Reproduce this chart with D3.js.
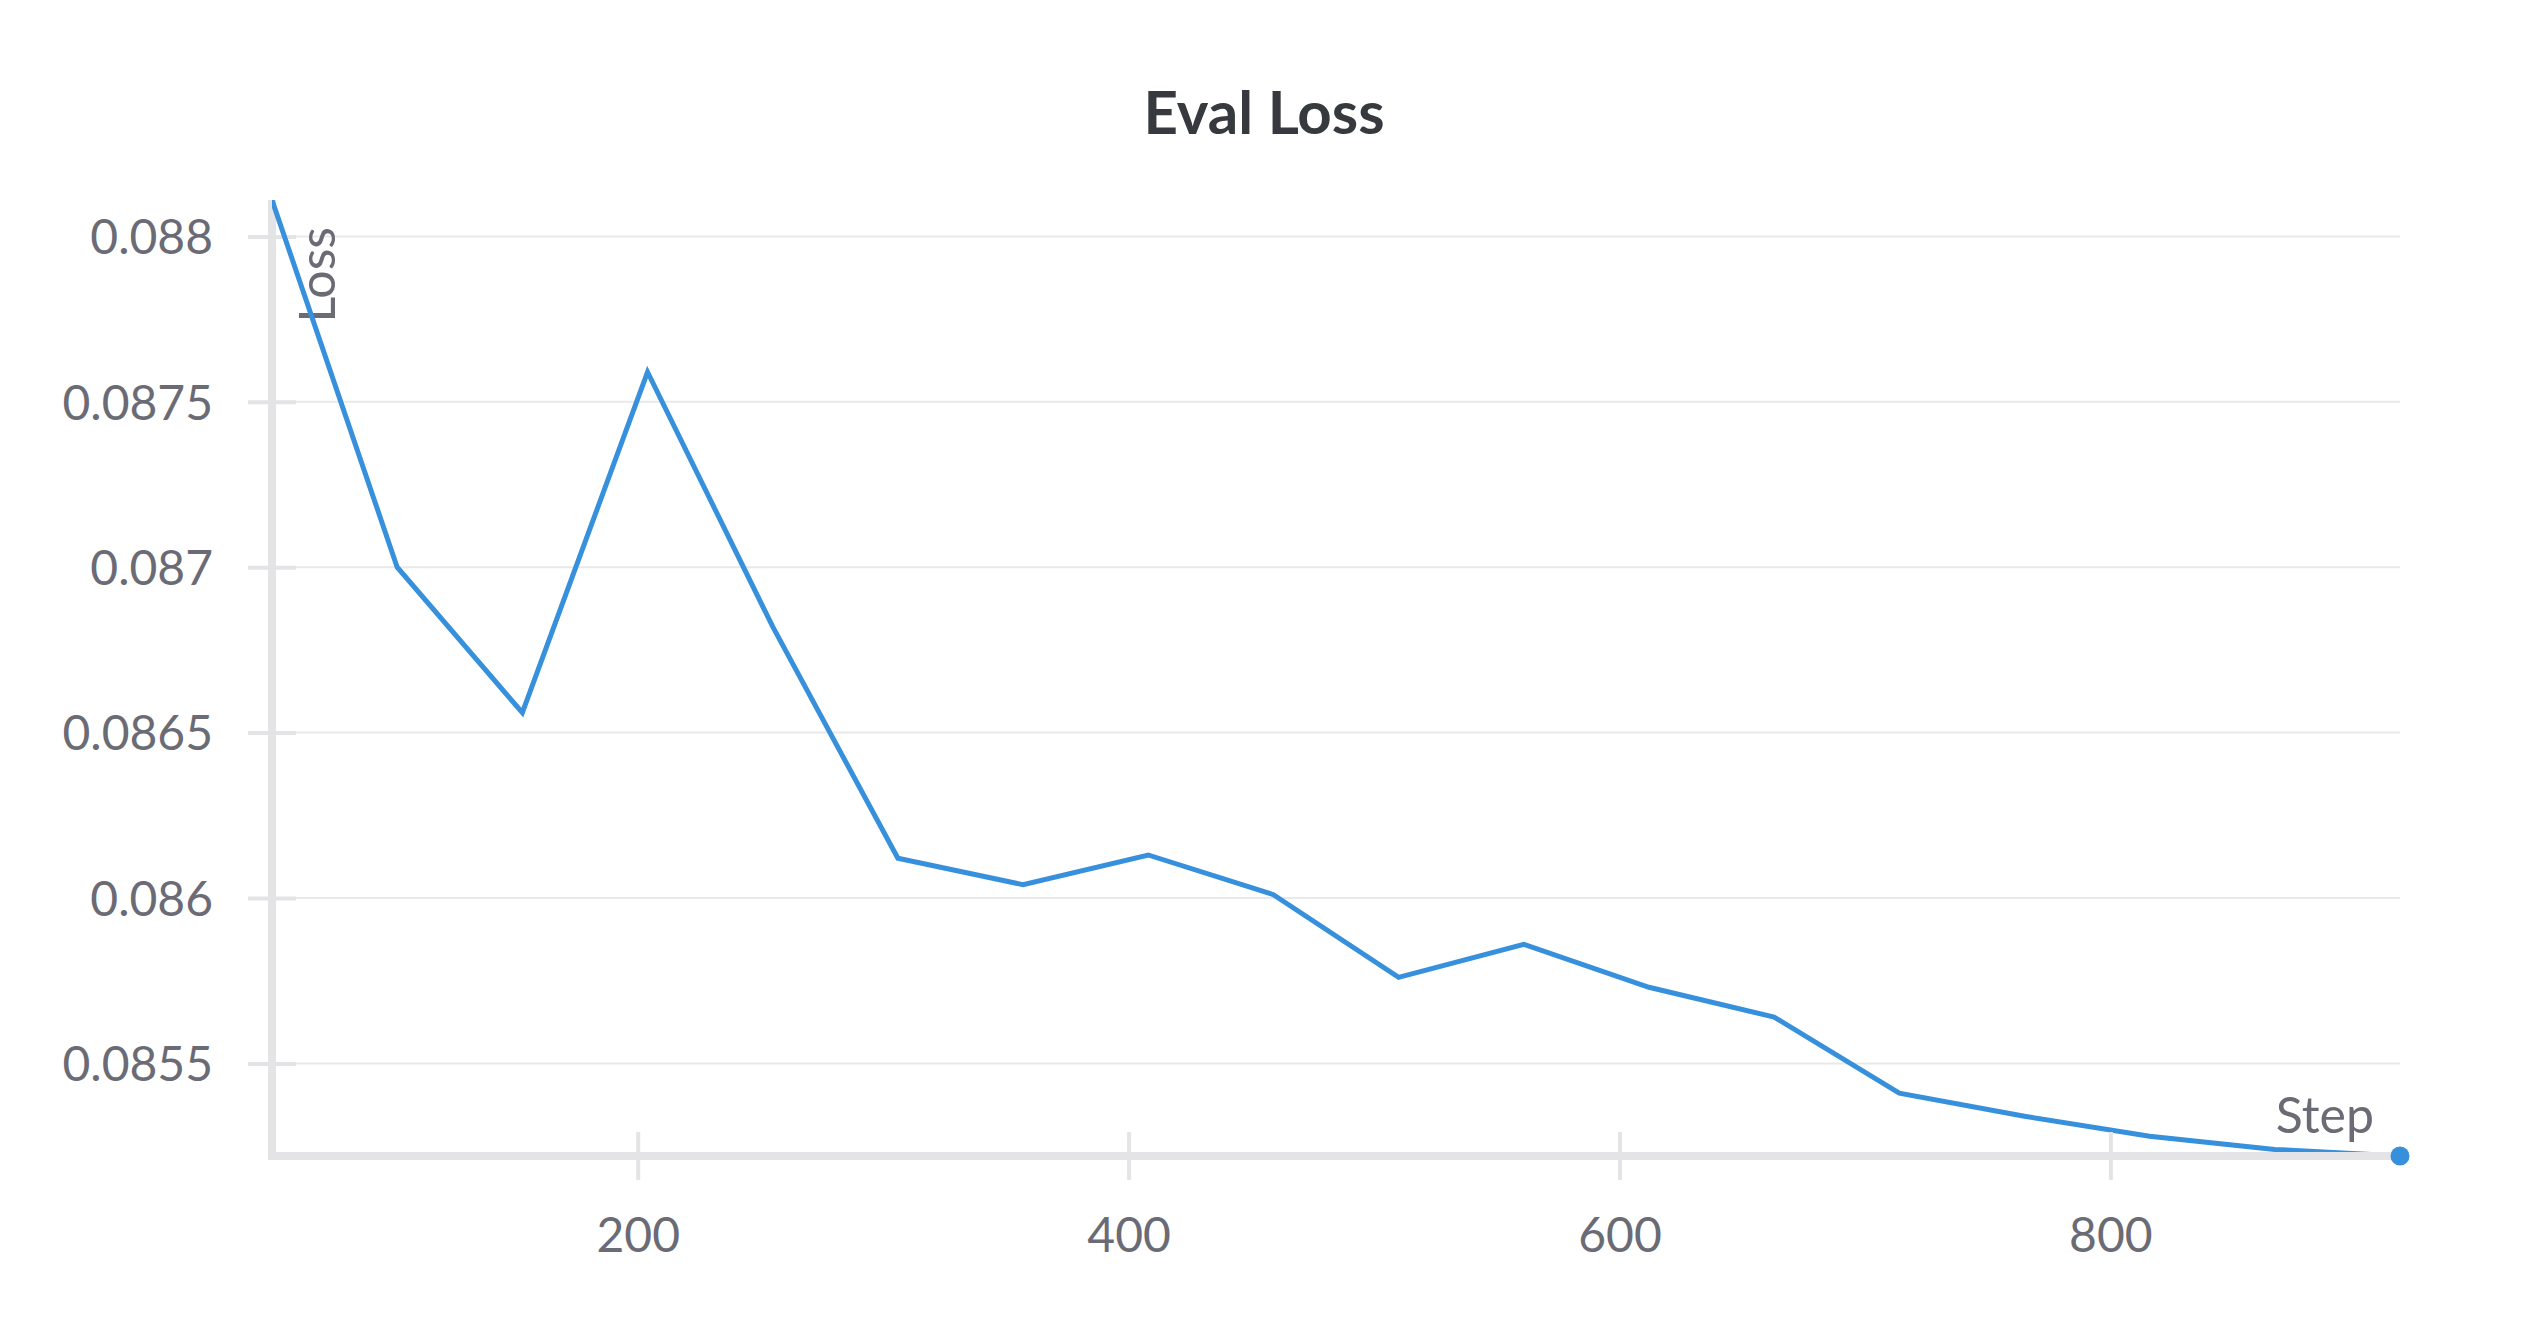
<!DOCTYPE html>
<html>
<head>
<meta charset="utf-8">
<script src="https://cdn.jsdelivr.net/npm/d3@7"></script>
<style>
  html, body { margin: 0; padding: 0; background: #ffffff; }
  svg { display: block; }
  text { font-family: Lato, "Noto Sans", sans-serif; }
</style>
</head>
<body>
<svg id="chart" width="2528" height="1328"></svg>
<script>
// ---- data ----
const title = "Eval Loss";
const xLabel = "Step";
const yLabel = "Loss";
const steps = [51, 102, 153, 204, 255, 306, 357, 408, 459, 510, 561, 612, 663, 714, 765, 816, 867, 918];
const evalLoss = [0.08811, 0.08700, 0.08656, 0.08759, 0.08682, 0.08612, 0.08604, 0.08613, 0.08601,
                  0.08576, 0.08586, 0.08573, 0.08564, 0.08541, 0.08534, 0.08528, 0.08524, 0.08522];
const xTicks = [200, 400, 600, 800];
const yTicks = [0.0855, 0.086, 0.0865, 0.087, 0.0875, 0.088];
const yTickLabels = ["0.0855", "0.086", "0.0865", "0.087", "0.0875", "0.088"];

(function () {
// ---- layout ----
const pLeft = 272, pRight = 2400, pTop = 200, pBottom = 1156;
const lineColor = "#3690dc";
const axisColor = "#e4e4e7";
const gridColor = "#e9e9ec";
const textColor = "#6b6b76";

const svg = d3.select("#chart");
const data = steps.map((s, i) => ({ step: s, loss: evalLoss[i] }));

const x = d3.scaleLinear().domain(d3.extent(steps)).range([pLeft, pRight]);
const y = d3.scaleLinear().domain(d3.extent(evalLoss)).range([pBottom, pTop]);

// title
svg.append("text")
  .attr("x", 1264).attr("y", 134)
  .attr("text-anchor", "middle")
  .attr("font-size", 60).attr("font-weight", 700)
  .attr("fill", "#36393d")
  .text(title);

// gridlines
svg.append("g").selectAll("line").data(yTicks).join("line")
  .attr("x1", pLeft).attr("x2", pRight)
  .attr("y1", d => y(d)).attr("y2", d => y(d))
  .attr("stroke", gridColor).attr("stroke-width", 2);

// y axis
const yAxis = svg.append("g")
  .attr("transform", `translate(${pLeft},0)`)
  .call(d3.axisLeft(y).tickValues(yTicks).tickSize(24).tickPadding(35)
        .tickFormat((d, i) => yTickLabels[i]));
yAxis.select(".domain").remove();
yAxis.selectAll(".tick line").attr("x2", -24).attr("x1", 24)
  .attr("stroke", axisColor).attr("stroke-width", 4);
yAxis.selectAll(".tick text")
  .attr("font-size", 48).attr("fill", textColor)
  .attr("font-family", "Lato, 'Noto Sans', sans-serif")
  .attr("x", -59).attr("dy", "0.36em");
svg.append("line")
  .attr("x1", pLeft).attr("x2", pLeft).attr("y1", pTop).attr("y2", pBottom + 4)
  .attr("stroke", axisColor).attr("stroke-width", 8);

// y label
svg.append("text")
  .attr("transform", `translate(335,227) rotate(-90)`)
  .attr("text-anchor", "end")
  .attr("font-size", 50).attr("fill", textColor)
  .text(yLabel);

// clip
svg.append("clipPath").attr("id", "plotclip")
  .append("rect").attr("x", pLeft).attr("y", pTop)
  .attr("width", pRight - pLeft).attr("height", pBottom - pTop);

// line
const line = d3.line().x(d => x(d.step)).y(d => y(d.loss));
svg.append("path")
  .datum(data)
  .attr("clip-path", "url(#plotclip)")
  .attr("fill", "none")
  .attr("stroke", lineColor)
  .attr("stroke-width", 5)
  .attr("stroke-linejoin", "miter")
  .attr("d", line);

// x axis
const xAxis = svg.append("g")
  .attr("transform", `translate(0,${pBottom})`)
  .call(d3.axisBottom(x).tickValues(xTicks).tickSize(24).tickPadding(38).tickFormat(d3.format("d")));
xAxis.select(".domain").remove();
xAxis.selectAll(".tick line").attr("y1", -24).attr("y2", 24)
  .attr("stroke", axisColor).attr("stroke-width", 4);
xAxis.selectAll(".tick text")
  .attr("font-size", 48).attr("fill", textColor)
  .attr("font-family", "Lato, 'Noto Sans', sans-serif")
  .attr("dy", "0.71em");
svg.append("line")
  .attr("x1", pLeft - 4).attr("x2", pRight).attr("y1", pBottom).attr("y2", pBottom)
  .attr("stroke", axisColor).attr("stroke-width", 8);

// x label
svg.append("text")
  .attr("x", 2374).attr("y", 1133)
  .attr("text-anchor", "end")
  .attr("font-size", 50).attr("fill", textColor)
  .text(xLabel);

// end dot
const last = data[data.length - 1];
svg.append("circle")
  .attr("cx", x(last.step)).attr("cy", y(last.loss))
  .attr("r", 9.5).attr("fill", lineColor);
})();
</script>
</body>
</html>
